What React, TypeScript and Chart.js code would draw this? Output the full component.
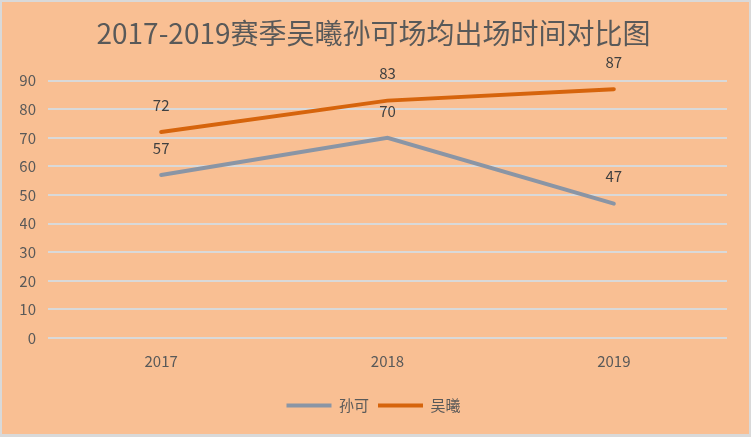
import React, { useEffect, useRef } from "react";
import { Chart, registerables } from "chart.js";

Chart.register(...registerables);

const titleText = "2017-2019赛季吴曦孙可场均出场时间对比图";
const categories = ["2017", "2018", "2019"];
const sunKeLabel = "孙可";
const sunKeValues = [57, 70, 47];
const wuXiLabel = "吴曦";
const wuXiValues = [72, 83, 87];
const yMin = 0;
const yMax = 90;
const yStep = 10;

const FONT = "'Noto Sans CJK SC', 'Noto Sans', sans-serif";
const BG = "#F9BF93";
const BORDER = "#D9D9D9";

const backgroundPlugin = {
  id: "bgPlugin",
  beforeDraw(chart: any) {
    const { ctx, width, height } = chart;
    ctx.save();
    ctx.fillStyle = BORDER;
    ctx.fillRect(0, 0, width, height);
    ctx.fillStyle = BG;
    ctx.fillRect(2, 2, width - 4, height - 5);
    ctx.restore();
  },
};

const dataLabelPlugin = {
  id: "dataLabels",
  afterDatasetsDraw(chart: any) {
    const { ctx } = chart;
    ctx.save();
    ctx.font = `15px ${FONT}`;
    ctx.fillStyle = "#404040";
    ctx.textAlign = "center";
    ctx.textBaseline = "middle";
    chart.data.datasets.forEach((ds: any, i: number) => {
      const meta = chart.getDatasetMeta(i);
      meta.data.forEach((pt: any, j: number) => {
        ctx.fillText(String(ds.data[j]), pt.x, pt.y - 27);
      });
    });
    ctx.restore();
  },
};

export default function App() {
  const ref = useRef<HTMLCanvasElement | null>(null);

  useEffect(() => {
    document.body.style.margin = "0";
    const canvas = ref.current;
    if (!canvas) return;
    const chart = new Chart(canvas, {
      type: "line",
      data: {
        labels: categories,
        datasets: [
          {
            label: sunKeLabel,
            data: sunKeValues,
            borderColor: "#8A95A5",
            backgroundColor: "#8A95A5",
            borderWidth: 4,
            borderCapStyle: "round",
            pointRadius: 0,
            tension: 0,
          },
          {
            label: wuXiLabel,
            data: wuXiValues,
            borderColor: "#D6640C",
            backgroundColor: "#D6640C",
            borderWidth: 4,
            borderCapStyle: "round",
            pointRadius: 0,
            tension: 0,
          },
        ],
      },
      options: {
        responsive: false,
        animation: false,
        devicePixelRatio: 1,
        layout: { padding: { left: 20, right: 24, top: 0, bottom: 14 } },
        plugins: {
          title: {
            display: true,
            text: titleText,
            color: "#595959",
            font: { family: FONT, size: 28, weight: "normal" },
            padding: { top: 17, bottom: 30 },
          },
          legend: {
            position: "bottom",
            labels: {
              usePointStyle: true,
              pointStyle: "line",
              pointStyleWidth: 45,
              color: "#595959",
              font: { family: FONT, size: 15 },
              padding: 9,
            },
          },
          tooltip: { enabled: false },
        },
        scales: {
          x: {
            offset: true,
            afterFit: (s: any) => {
              s.height = s.height + 5;
            },
            grid: { display: false, drawTicks: false },
            border: { display: false },
            ticks: {
              color: "#595959",
              font: { family: FONT, size: 15 },
              padding: 14,
            },
          },
          y: {
            min: yMin,
            max: yMax,
            afterFit: (s: any) => {
              s.width = 28;
            },
            grid: { color: BORDER, lineWidth: 2, drawTicks: false },
            border: { display: false },
            ticks: {
              stepSize: yStep,
              color: "#595959",
              font: { family: FONT, size: 15 },
              padding: 12,
            },
          },
        },
      },
      plugins: [backgroundPlugin, dataLabelPlugin],
    });
    return () => chart.destroy();
  }, []);

  return <canvas ref={ref} width={751} height={437} style={{ display: "block" }} />;
}
